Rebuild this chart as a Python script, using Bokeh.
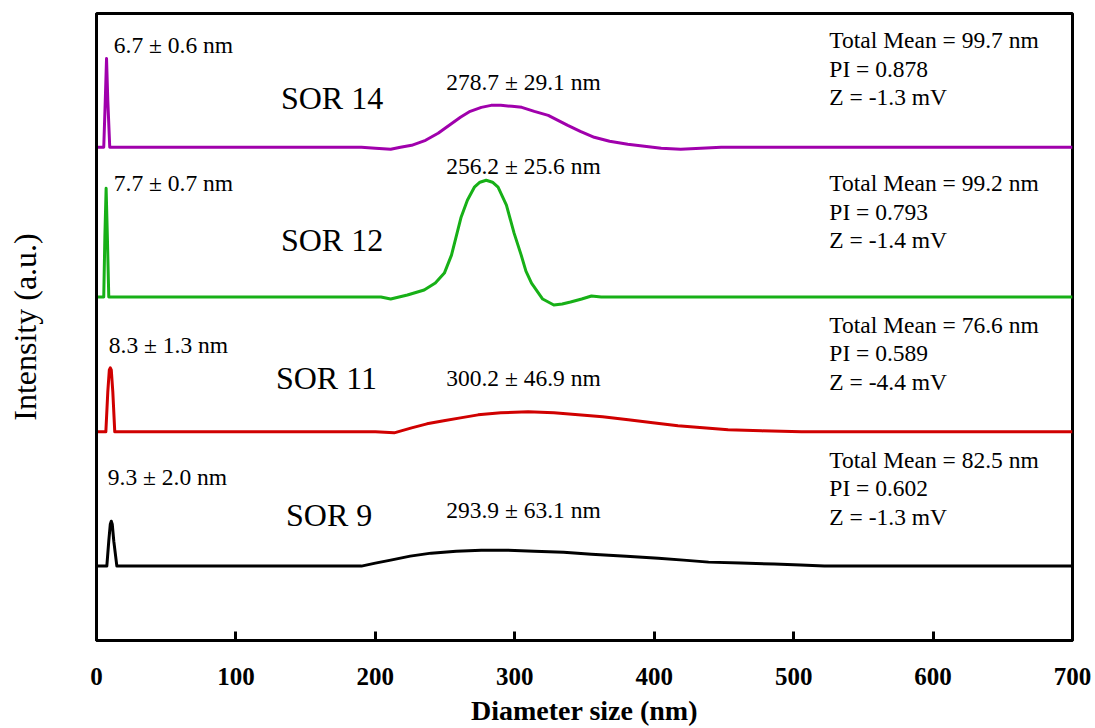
from bokeh.plotting import figure
from bokeh.models import Range1d, FixedTicker, ColumnDataSource
from bokeh.core.properties import value
from bokeh.embed import file_html
from bokeh.resources import INLINE

# ---------------- data ----------------
x_ticks = [0, 100, 200, 300, 400, 500, 600, 700]

samples = ["SOR 14", "SOR 12", "SOR 11", "SOR 9"]
colors = ["#A000AC", "#17B017", "#D00000", "#000000"]

small_peak_labels = ["6.7 \u00b1 0.6 nm", "7.7 \u00b1 0.7 nm", "8.3 \u00b1 1.3 nm", "9.3 \u00b1 2.0 nm"]
large_peak_labels = ["278.7 \u00b1 29.1  nm", "256.2 \u00b1 25.6 nm", "300.2 \u00b1 46.9 nm", "293.9 \u00b1 63.1 nm"]
total_means = ["99.7", "99.2", "76.6", "82.5"]
pi_values = ["0.878", "0.793", "0.589", "0.602"]
zeta_values = ["-1.3", "-1.4", "-4.4", "-1.3"]

# intensity curves (a.u.) relative to each curve's baseline
sor14_x = [0, 5.2, 6.3, 7.2, 8.1, 9.5, 190, 200, 211, 218, 226, 236, 245, 253, 261, 268, 276, 283, 290, 298, 305, 314, 324, 331, 338, 347, 357, 368, 381, 393, 405, 419, 448, 700]
sor14_i = [0, 0, 47, 89, 47, 0, 0, -1, -2, 0, 2, 7, 14, 22, 30, 36, 40, 42, 42, 41, 40, 36, 32, 27, 22, 16, 10, 6, 3, 1, -1, -2, 0, 0]

sor12_x = [0, 5.2, 6.0, 6.9, 7.8, 8.8, 197, 204, 211, 223, 235, 243, 249.5, 254.6, 261.5, 266, 271, 275, 279.5, 284, 288, 294, 299.5, 304.6, 308, 312, 320, 328, 334, 340, 348, 355, 362, 700]
sor12_i = [0, 0, 60, 109, 60, 0, 0, 0, -2, 2, 7, 14, 24, 42, 80, 97, 110, 115, 117, 115, 110, 92, 64, 42, 26, 14, -2, -8, -7, -5, -2, 1, 0, 0]

sor11_x = [0, 6.7, 8.1, 9.2, 9.9, 10.6, 11.7, 13.1, 185, 200, 213.5, 226, 237, 249, 261, 273.7, 290, 309.6, 328, 345.5, 363, 381.4, 399, 417, 435, 453, 477, 505.6, 700]
sor11_i = [0, 0, 40, 62, 64, 62, 40, 0, 0, 0, -1, 4, 8, 11, 14, 17, 19, 20, 19, 17, 15, 12, 9, 6, 4, 2, 1, 0, 0]

sor9_x = [0, 7.4, 8.8, 9.9, 10.6, 11.3, 12.4, 14.6, 175.5, 190, 200, 211, 225, 240, 258, 276, 295, 314, 335, 355, 380, 403, 421, 439, 462, 486, 505, 522, 548, 700]
sor9_i = [0, 0, 25, 42, 45, 42, 25, 0, 0, 0, 3, 6, 10, 13, 15, 16, 16, 15, 14, 12, 10, 8, 6, 4, 3, 2, 1, 0, 0, 0]

curves_x = [sor14_x, sor12_x, sor11_x, sor9_x]
curves_i = [sor14_i, sor12_i, sor11_i, sor9_i]
baselines = [494, 344, 209, 74.5]

# label placement (data coordinates)
small_pos = [(12.4, 596), (12.4, 458), (8.8, 296), (8.1, 164)]
name_pos = [(132.3, 543), (132.3, 401), (128.7, 263), (135.9, 126)]
large_pos = [(250.8, 559), (250.8, 475), (250.8, 263), (250.8, 131)]
info_x = 525.6
info_top = [601, 458, 316, 181]
info_step = 28.5

FONT = "Liberation Serif"

p = figure(width=1095, height=728, output_backend="svg", toolbar_location=None,
           x_range=Range1d(0, 700), y_range=Range1d(0, 628),
           min_border_left=96, min_border_right=23, min_border_top=13, min_border_bottom=87)
p.background_fill_color = "white"
p.border_fill_color = "white"
p.xgrid.visible = False
p.ygrid.visible = False
p.outline_line_color = "black"
p.outline_line_width = 3
p.outline_line_alpha = 1

for xs, ys, base, c in zip(curves_x, curves_i, baselines, colors):
    p.line(xs, [base + v for v in ys], line_color=c, line_width=3, line_join="round")

# texts
src_small = ColumnDataSource(dict(x=[a for a, b in small_pos], y=[b for a, b in small_pos], t=small_peak_labels))
src_name = ColumnDataSource(dict(x=[a for a, b in name_pos], y=[b for a, b in name_pos], t=samples))
src_large = ColumnDataSource(dict(x=[a for a, b in large_pos], y=[b for a, b in large_pos], t=large_peak_labels))
info_t, info_y = [], []
for top, m, pi, z in zip(info_top, total_means, pi_values, zeta_values):
    info_t += ["Total Mean = %s nm" % m, "PI = %s" % pi, "Z = %s mV" % z]
    info_y += [top, top - info_step, top - 2 * info_step]
src_info = ColumnDataSource(dict(x=[info_x] * len(info_t), y=info_y, t=info_t))

for src, size in [(src_small, "23.5px"), (src_large, "23.5px"), (src_info, "23.5px"), (src_name, "32px")]:
    p.text("x", "y", text="t", source=src, text_font=value(FONT), text_font_size=size,
           text_align="left", text_baseline="middle", text_color="black")

# x axis
xa = p.xaxis[0]
xa.ticker = FixedTicker(ticks=x_ticks)
xa.major_label_text_font = FONT
xa.major_label_text_font_size = "25px"
xa.major_label_text_font_style = "bold"
xa.major_label_text_color = "black"
xa.major_label_standoff = 27
xa.axis_line_width = 3
xa.axis_line_color = "black"
xa.major_tick_in = 9
xa.major_tick_out = 0
xa.major_tick_line_width = 3
xa.major_tick_line_color = "black"
xa.minor_tick_line_color = None
xa.axis_label = "Diameter size (nm)"
xa.axis_label_text_font = FONT
xa.axis_label_text_font_size = "28px"
xa.axis_label_text_font_style = "bold"
xa.axis_label_text_color = "black"
xa.axis_label_standoff = 7

# y axis
ya = p.yaxis[0]
ya.ticker = FixedTicker(ticks=[])
ya.major_label_standoff = 0
ya.major_tick_in = 0
ya.major_tick_out = 0
ya.minor_tick_line_color = None
ya.axis_line_width = 3
ya.axis_line_color = "black"
ya.axis_label = "Intensity (a.u.)"
ya.axis_label_text_font = FONT
ya.axis_label_text_font_size = "32px"
ya.axis_label_text_font_style = "normal"
ya.axis_label_text_color = "black"
ya.axis_label_standoff = 54

open("out.html", "w").write(file_html(p, INLINE))
